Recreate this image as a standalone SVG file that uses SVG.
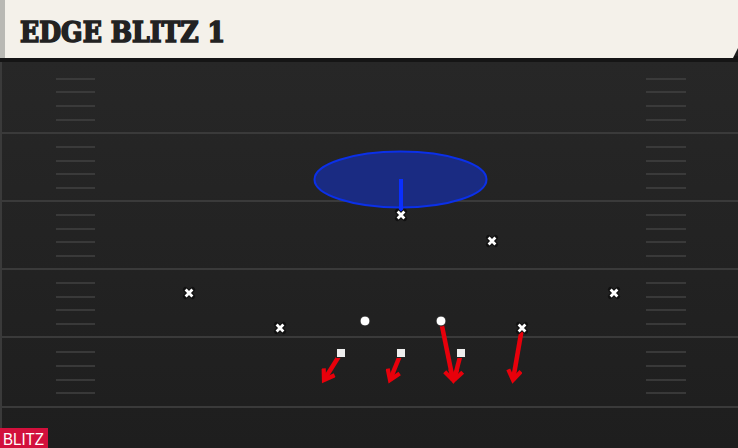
<svg xmlns="http://www.w3.org/2000/svg" width="738" height="448" viewBox="0 0 738 448">
<defs>
<linearGradient id="fieldg" x1="0" y1="0" x2="0" y2="1">
<stop offset="0" stop-color="#272727"/>
<stop offset="1" stop-color="#1e1e1e"/>
</linearGradient>
<marker id="ah" viewBox="0 0 10 10" refX="7" refY="5" markerWidth="3.6" markerHeight="3.6" orient="auto" markerUnits="strokeWidth">
<path d="M1,1 L7,5 L1,9" fill="none" stroke="#e8000b" stroke-width="2.6" stroke-linejoin="miter"/>
</marker>
<g id="xm">
<path d="M-3.6,-3.6 L3.6,3.6 M-3.6,3.6 L3.6,-3.6" stroke="#111" stroke-width="5" stroke-linecap="round"/>
<path d="M-3.4,-3.4 L3.4,3.4 M-3.4,3.4 L3.4,-3.4" stroke="#fff" stroke-width="2.8" stroke-linecap="butt"/>
</g>
</defs>
<style>
.yl{stroke:#3a3a3a;stroke-width:2}
.hm{stroke:#424242;stroke-width:1.5}
.rt{stroke:#e8000b;stroke-width:4.5;fill:none;marker-end:url(#ah)}
.sq{fill:#eeeeee;stroke:#222;stroke-width:1}
.ci{fill:#ffffff;stroke:#222;stroke-width:1}
</style>
<rect x="0" y="0" width="738" height="448" fill="#1e1e1e"/>
<rect x="0" y="60" width="738" height="388" fill="url(#fieldg)"/>
<rect x="0" y="60" width="2" height="388" fill="#3a3a3a"/>
<rect x="0" y="56" width="738" height="6" fill="#151515"/>
<g id="header">
<path d="M0,0 H738 V48 L733,58 H0 Z" fill="#f4f1ea"/>
<rect x="0" y="0" width="5" height="58" fill="#b9b9b4"/>
<text x="20" y="42" font-family="DejaVu Serif, serif" font-weight="bold" font-size="27" fill="#222" stroke="#222" stroke-width="1.6" stroke-linejoin="miter" textLength="205" lengthAdjust="spacingAndGlyphs">EDGE BLITZ 1</text>
</g>
<g id="field">
<line class="yl" x1="0" y1="133" x2="738" y2="133"/>
<line class="yl" x1="0" y1="201" x2="738" y2="201"/>
<line class="yl" x1="0" y1="269" x2="738" y2="269"/>
<line class="yl" x1="0" y1="337" x2="738" y2="337"/>
<line class="yl" x1="0" y1="407" x2="738" y2="407"/>
<g id="hash-left">
<line class="hm" x1="56" y1="79" x2="95" y2="79"/><line class="hm" x1="56" y1="92" x2="95" y2="92"/><line class="hm" x1="56" y1="106" x2="95" y2="106"/><line class="hm" x1="56" y1="120" x2="95" y2="120"/>
<line class="hm" x1="56" y1="147" x2="95" y2="147"/><line class="hm" x1="56" y1="161" x2="95" y2="161"/><line class="hm" x1="56" y1="174" x2="95" y2="174"/><line class="hm" x1="56" y1="188" x2="95" y2="188"/>
<line class="hm" x1="56" y1="215" x2="95" y2="215"/><line class="hm" x1="56" y1="229" x2="95" y2="229"/><line class="hm" x1="56" y1="242" x2="95" y2="242"/><line class="hm" x1="56" y1="256" x2="95" y2="256"/>
<line class="hm" x1="56" y1="283" x2="95" y2="283"/><line class="hm" x1="56" y1="297" x2="95" y2="297"/><line class="hm" x1="56" y1="310" x2="95" y2="310"/><line class="hm" x1="56" y1="324" x2="95" y2="324"/>
<line class="hm" x1="56" y1="352" x2="95" y2="352"/><line class="hm" x1="56" y1="366" x2="95" y2="366"/><line class="hm" x1="56" y1="380" x2="95" y2="380"/><line class="hm" x1="56" y1="393" x2="95" y2="393"/>
</g>
<g id="hash-right">
<line class="hm" x1="646" y1="79" x2="686" y2="79"/><line class="hm" x1="646" y1="92" x2="686" y2="92"/><line class="hm" x1="646" y1="106" x2="686" y2="106"/><line class="hm" x1="646" y1="120" x2="686" y2="120"/>
<line class="hm" x1="646" y1="147" x2="686" y2="147"/><line class="hm" x1="646" y1="161" x2="686" y2="161"/><line class="hm" x1="646" y1="174" x2="686" y2="174"/><line class="hm" x1="646" y1="188" x2="686" y2="188"/>
<line class="hm" x1="646" y1="215" x2="686" y2="215"/><line class="hm" x1="646" y1="229" x2="686" y2="229"/><line class="hm" x1="646" y1="242" x2="686" y2="242"/><line class="hm" x1="646" y1="256" x2="686" y2="256"/>
<line class="hm" x1="646" y1="283" x2="686" y2="283"/><line class="hm" x1="646" y1="297" x2="686" y2="297"/><line class="hm" x1="646" y1="310" x2="686" y2="310"/><line class="hm" x1="646" y1="324" x2="686" y2="324"/>
<line class="hm" x1="646" y1="352" x2="686" y2="352"/><line class="hm" x1="646" y1="366" x2="686" y2="366"/><line class="hm" x1="646" y1="380" x2="686" y2="380"/><line class="hm" x1="646" y1="393" x2="686" y2="393"/>
</g>
</g>
<g id="zone">
<ellipse cx="400.5" cy="179.5" rx="86" ry="28" fill="#1a2b82" stroke="#0b30e8" stroke-width="2"/>
</g>
<g id="connectors">
<line x1="401" y1="179" x2="401" y2="212" stroke="#0a2fff" stroke-width="4"/>
<line class="rt" x1="341" y1="353" x2="324" y2="380"/>
<line class="rt" x1="401" y1="353" x2="390" y2="380"/>
<line class="rt" x1="441" y1="321" x2="453" y2="380"/>
<line class="rt" x1="461" y1="353" x2="454" y2="380"/>
<line class="rt" x1="522" y1="328" x2="513" y2="380"/>
</g>
<g id="d1"><use href="#xm" x="401" y="215"/></g>
<g id="d2"><use href="#xm" x="492" y="241"/></g>
<g id="d3"><use href="#xm" x="189" y="293"/></g>
<g id="d4"><use href="#xm" x="614" y="293"/></g>
<g id="d5"><use href="#xm" x="280" y="328"/></g>
<g id="d6"><use href="#xm" x="522" y="328"/></g>
<g id="c1"><circle class="ci" cx="365" cy="321" r="5"/></g>
<g id="c2"><circle class="ci" cx="441" cy="321" r="5"/></g>
<g id="s1"><rect class="sq" x="336.5" y="348.5" width="9" height="9"/></g>
<g id="s2"><rect class="sq" x="396.5" y="348.5" width="9" height="9"/></g>
<g id="s3"><rect class="sq" x="456.5" y="348.5" width="9" height="9"/></g>
<g id="blitz-tag">
<rect x="0" y="428" width="48" height="20" fill="#d2103c"/>
<text x="3" y="445" font-family="Liberation Sans, Arial, sans-serif" font-size="16" fill="#fff" textLength="41" lengthAdjust="spacingAndGlyphs">BLITZ</text>
</g>
</svg>
